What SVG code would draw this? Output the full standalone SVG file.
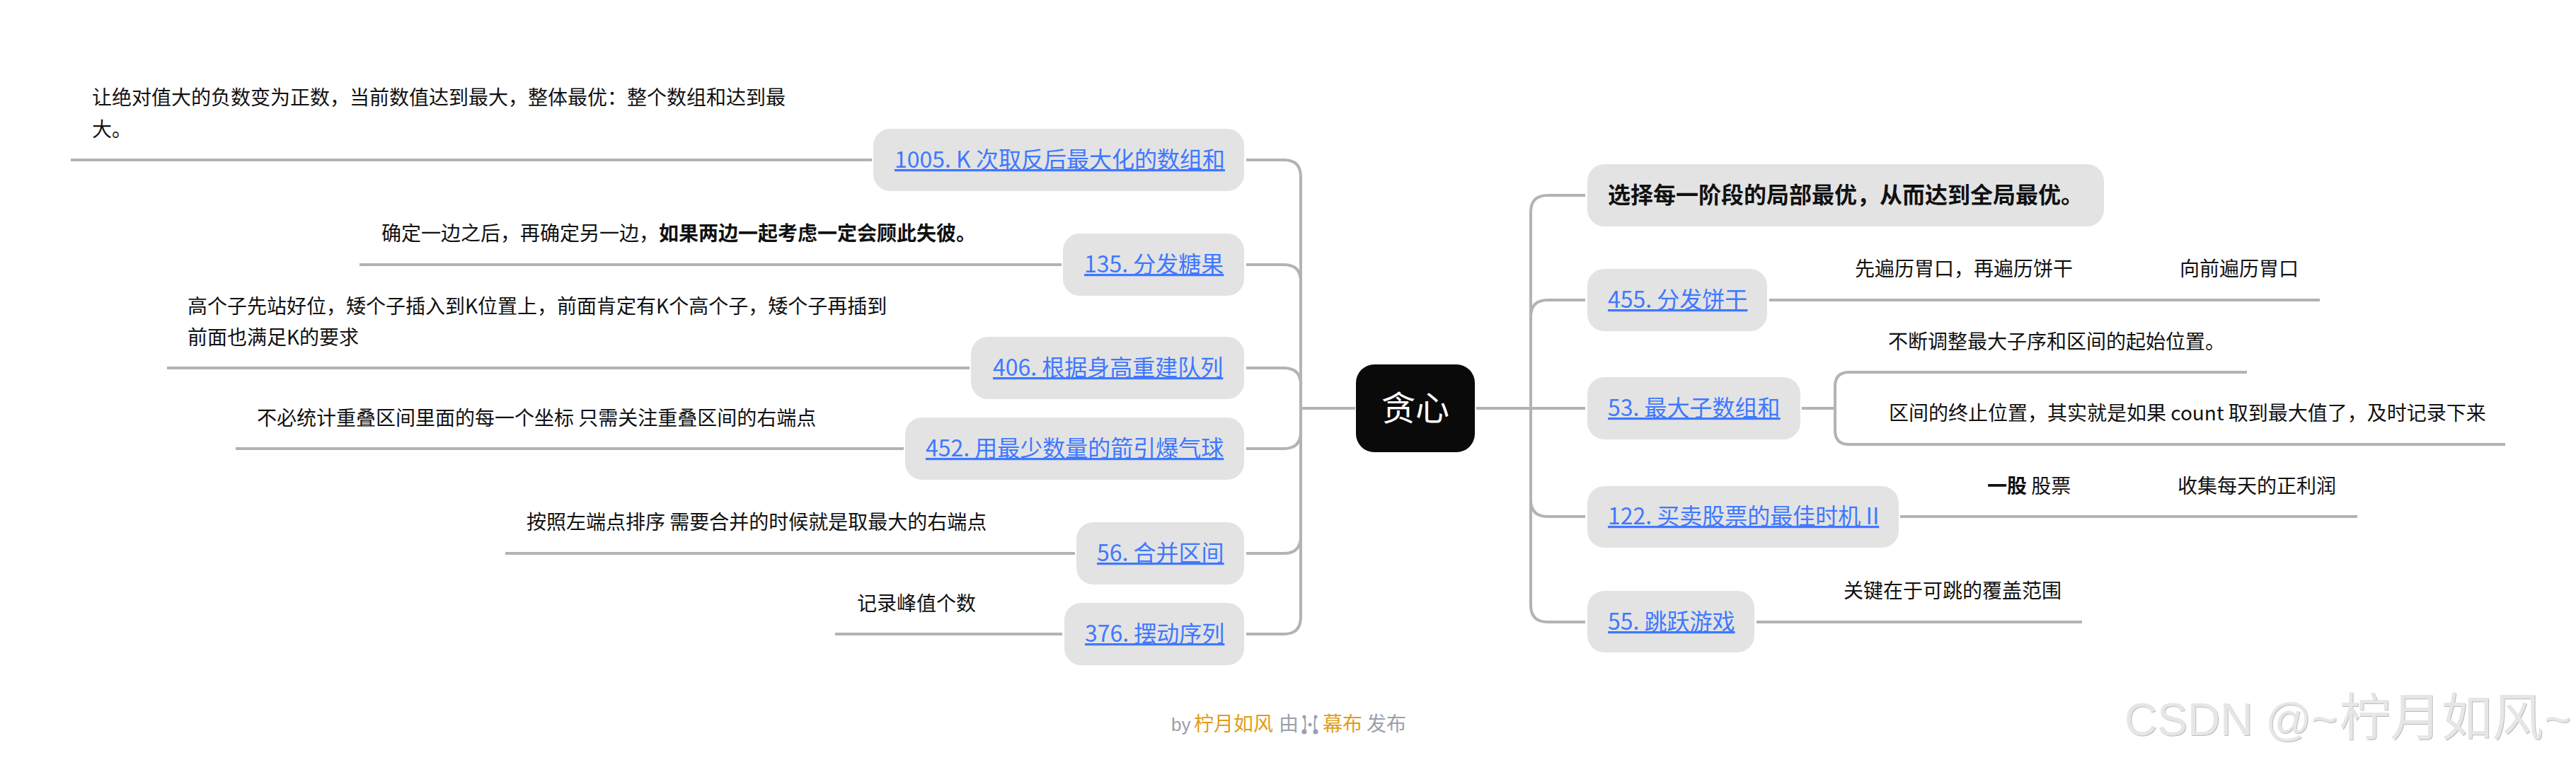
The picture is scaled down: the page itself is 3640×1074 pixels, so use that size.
<svg xmlns="http://www.w3.org/2000/svg" width="3640" height="1074" viewBox="0 0 3640 1074">
<style>
text{font-family:"Noto Sans CJK SC","Noto Sans",sans-serif;fill:#111;white-space:pre}
.t{font-size:28px}
.b{font-weight:700}
.l{font-size:32px;fill:#3f78ff;text-decoration:underline}
.n{fill:#e3e3e3}
.c{fill:none;stroke:#b3b3b3;stroke-width:4}
.f{font-size:28px;fill:#9aa0aa}
.o{fill:#e09d18}
.w{font-size:72px;fill:#e6e6e6;filter:drop-shadow(1px 1px 0 #bcbcbc)}
.wl{font-family:"Liberation Sans",sans-serif;font-size:64px}
</style>
<rect width="3640" height="1074" fill="#fff"/>
<g id="connectors">
<path class="c" d="M1915 577H1838"/>
<path class="c" d="M1761 226H1814Q1838 226 1838 250V872Q1838 896 1814 896H1761"/>
<path class="c" d="M1761 374H1814Q1838 374 1838 398"/>
<path class="c" d="M1761 520H1814Q1838 520 1838 544"/>
<path class="c" d="M1761 634H1814Q1838 634 1838 610"/>
<path class="c" d="M1761 782H1814Q1838 782 1838 758"/>
<path class="c" d="M1232 226H100M1500 374H508M1370 520H236M1277 634H333M1519 782H714M1501 896H1180"/>
<path class="c" d="M2086 577H2240"/>
<path class="c" d="M2240 276H2187Q2163 276 2163 300V855Q2163 879 2187 879H2240"/>
<path class="c" d="M2240 424H2187Q2163 424 2163 448"/>
<path class="c" d="M2240 730H2187Q2163 730 2163 706"/>
<path class="c" d="M2500 424H3278M2546 577H2593M2685 730H3331M2482 879H2942"/>
<path class="c" d="M3175 526H2613Q2593 526 2593 546V608Q2593 628 2613 628H3540"/>
</g>
<g id="root"><rect x="1916" y="515" width="168" height="124" rx="26" fill="#0a0a0a"/><text x="1952" y="594" font-size="48" style="fill:#fff">贪心</text></g>
<g id="n1005"><rect class="n" x="1234" y="182" width="524" height="88" rx="24"/><text class="l" x="1264" y="237">1005. K 次取反后最大化的数组和</text></g>
<g id="n1005-note"><text class="t" x="130" y="148">让绝对值大的负数变为正数，当前数值达到最大，整体最优：整个数组和达到最</text><text class="t" x="130" y="193">大。</text></g>
<g id="n135"><rect class="n" x="1502" y="330" width="256" height="88" rx="24"/><text class="l" x="1532" y="385">135. 分发糖果</text></g>
<g id="n135-note"><text class="t" x="539" y="340">确定一边之后，再确定另一边，<tspan class="b">如果两边一起考虑一定会顾此失彼。</tspan></text></g>
<g id="n406"><rect class="n" x="1372" y="476" width="386" height="88" rx="24"/><text class="l" x="1403" y="531">406. 根据身高重建队列</text></g>
<g id="n406-note"><text class="t" x="265" y="443">高个子先站好位，矮个子插入到K位置上，前面肯定有K个高个子，矮个子再插到</text><text class="t" x="265" y="487">前面也满足K的要求</text></g>
<g id="n452"><rect class="n" x="1279" y="590" width="479" height="88" rx="24"/><text class="l" x="1308" y="645">452. 用最少数量的箭引爆气球</text></g>
<g id="n452-note"><text class="t" x="363" y="601">不必统计重叠区间里面的每一个坐标 只需关注重叠区间的右端点</text></g>
<g id="n56"><rect class="n" x="1521" y="738" width="237" height="88" rx="24"/><text class="l" x="1550" y="793">56. 合并区间</text></g>
<g id="n56-note"><text class="t" x="744" y="748">按照左端点排序 需要合并的时候就是取最大的右端点</text></g>
<g id="n376"><rect class="n" x="1504" y="852" width="254" height="88" rx="24"/><text class="l" x="1533" y="907">376. 摆动序列</text></g>
<g id="n376-note"><text class="t" x="1211" y="863">记录峰值个数</text></g>
<g id="top"><rect class="n" x="2243" y="232" width="730" height="88" rx="24"/><text x="2272" y="287" font-size="32" font-weight="700">选择每一阶段的局部最优，从而达到全局最优。</text></g>
<g id="n455"><rect class="n" x="2243" y="380" width="254" height="88" rx="24"/><text class="l" x="2272" y="435">455. 分发饼干</text></g>
<g id="n455-note"><text class="t" x="2621" y="390">先遍历胃口，再遍历饼干</text><text class="t" x="3080" y="390">向前遍历胃口</text></g>
<g id="n53"><rect class="n" x="2243" y="533" width="301" height="88" rx="24"/><text class="l" x="2272" y="588">53. 最大子数组和</text></g>
<g id="n53-note"><text class="t" x="2668" y="493">不断调整最大子序和区间的起始位置。</text><text class="t" x="2669" y="594">区间的终止位置，其实就是如果 count 取到最大值了，及时记录下来</text></g>
<g id="n122"><rect class="n" x="2243" y="687" width="440" height="87" rx="24"/><text class="l" x="2272" y="741">122. 买卖股票的最佳时机 II</text></g>
<g id="n122-note"><text class="t" x="2808" y="697"><tspan class="b">一股</tspan> 股票</text><text class="t" x="3077" y="697">收集每天的正利润</text></g>
<g id="n55"><rect class="n" x="2243" y="835" width="236" height="87" rx="24"/><text class="l" x="2272" y="890">55. 跳跃游戏</text></g>
<g id="n55-note"><text class="t" x="2605" y="845">关键在于可跳的覆盖范围</text></g>
<g id="footer"><text class="f" x="1655" y="1033" style="font-family:'Liberation Sans',sans-serif;font-size:26px">by</text><text class="f o" x="1687" y="1033">柠月如风</text><text class="f" x="1807" y="1033">由</text>
<path d="M1843 1012Q1846 1024 1843 1035M1859 1012Q1856 1024 1859 1035" fill="none" stroke="#9aa0aa" stroke-width="2"/><circle cx="1843" cy="1013" r="2.5" fill="#9aa0aa"/><circle cx="1859" cy="1013" r="2.5" fill="#9aa0aa"/><circle cx="1843" cy="1034" r="3.5" fill="#9aa0aa"/><circle cx="1859" cy="1034" r="3.5" fill="#9aa0aa"/><circle cx="1851" cy="1024" r="2.5" fill="#9aa0aa"/>
<text class="f o" x="1869" y="1033">幕布</text><text class="f" x="1931" y="1033">发布</text></g>
<g id="watermark"><text class="w" x="3002" y="1039"><tspan class="wl">CSDN @~</tspan><tspan dx="2">柠月如风</tspan><tspan class="wl" dx="2">~</tspan></text></g>
</svg>
